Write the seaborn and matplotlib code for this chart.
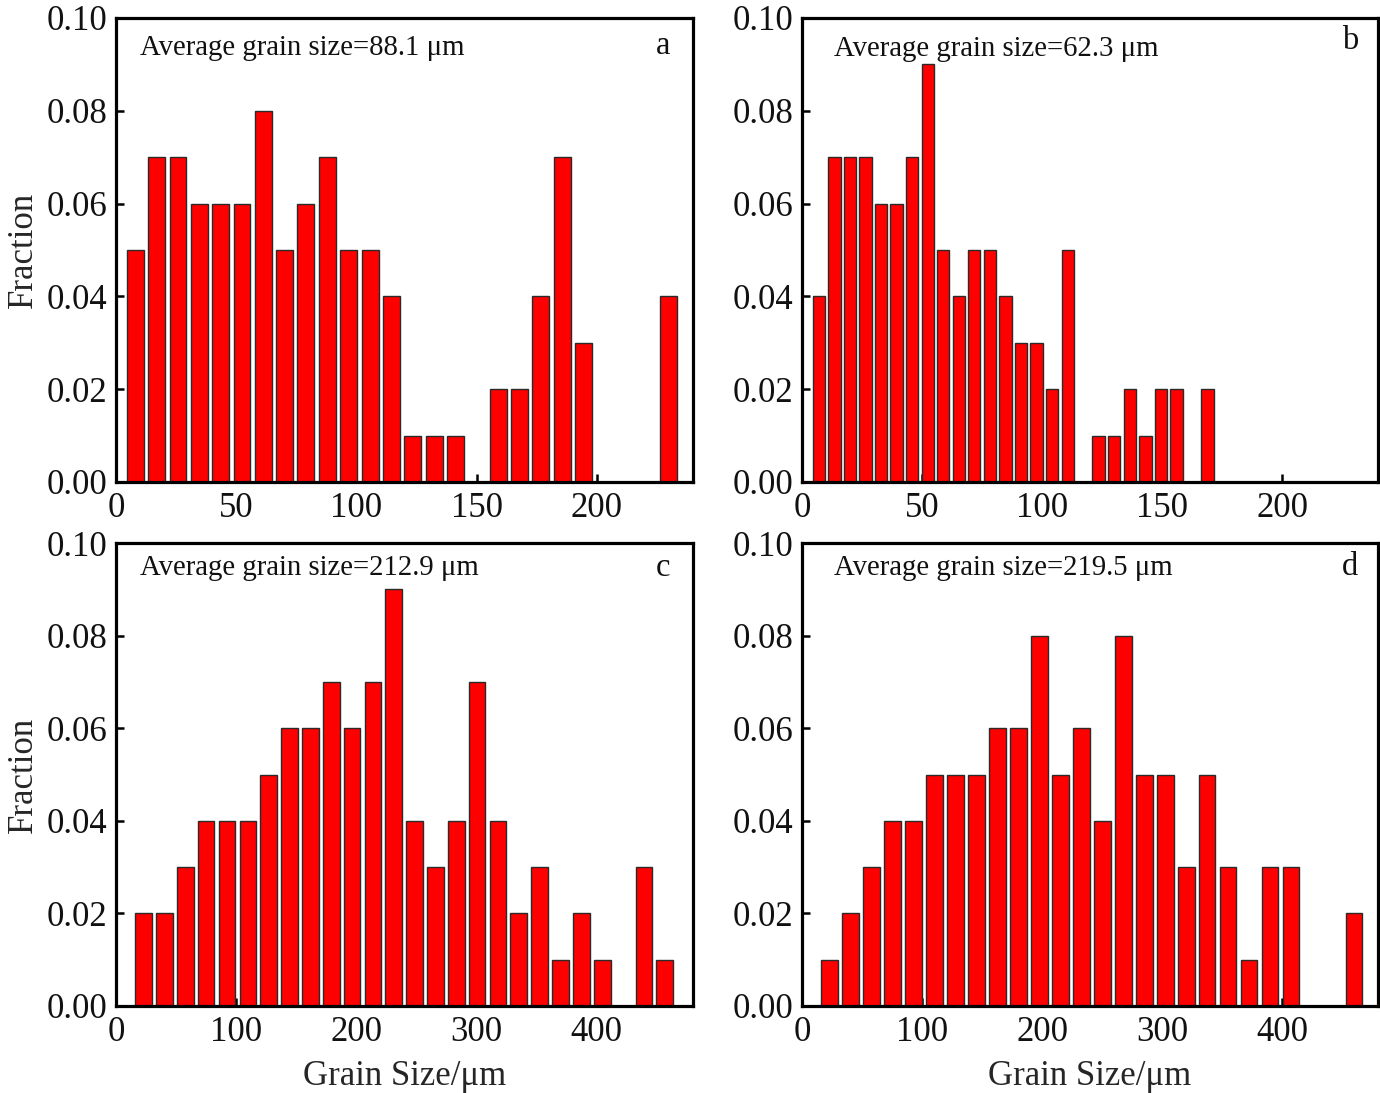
import numpy as np
import pandas as pd
import matplotlib
matplotlib.use("Agg")
import matplotlib.pyplot as plt
from matplotlib.ticker import FormatStrFormatter, MultipleLocator
import seaborn as sns

# ---- data ----
size_a = [8.0, 16.9, 25.8, 34.6, 43.5, 52.4, 61.3, 70.2, 79.0, 87.9, 96.8, 105.7, 114.6,
          123.4, 132.3, 141.2, 150.1, 159.0, 167.8, 176.7, 185.6, 194.5, 203.4, 212.2, 221.1, 230.0]
frac_a = [0.05, 0.07, 0.07, 0.06, 0.06, 0.06, 0.08, 0.05, 0.06, 0.07, 0.05, 0.05, 0.04,
          0.01, 0.01, 0.01, 0.00, 0.02, 0.02, 0.04, 0.07, 0.03, 0.00, 0.00, 0.00, 0.04]

size_b = [7.0, 13.5, 20.0, 26.4, 32.9, 39.4, 45.9, 52.4, 58.8, 65.3, 71.8, 78.3, 84.8,
          91.2, 97.7, 104.2, 110.7, 117.2, 123.6, 130.1, 136.6, 143.1, 149.6, 156.0, 162.5, 169.0]
frac_b = [0.04, 0.07, 0.07, 0.07, 0.06, 0.06, 0.07, 0.09, 0.05, 0.04, 0.05, 0.05, 0.04,
          0.03, 0.03, 0.02, 0.05, 0.00, 0.01, 0.01, 0.02, 0.01, 0.02, 0.02, 0.00, 0.02]

size_c = [23.0, 40.3, 57.7, 75.0, 92.4, 109.7, 127.0, 144.4, 161.7, 179.1, 196.4, 213.7, 231.1,
          248.4, 265.8, 283.1, 300.4, 317.8, 335.1, 352.5, 369.8, 387.1, 404.5, 421.8, 439.2, 456.5]
frac_c = [0.02, 0.02, 0.03, 0.04, 0.04, 0.04, 0.05, 0.06, 0.06, 0.07, 0.06, 0.07, 0.09,
          0.04, 0.03, 0.04, 0.07, 0.04, 0.02, 0.03, 0.01, 0.02, 0.01, 0.00, 0.03, 0.01]

size_d = [23.0, 40.5, 58.0, 75.4, 92.9, 110.4, 127.9, 145.4, 162.8, 180.3, 197.8, 215.3, 232.8,
          250.2, 267.7, 285.2, 302.7, 320.2, 337.6, 355.1, 372.6, 390.1, 407.6, 425.0, 442.5, 460.0]
frac_d = [0.01, 0.02, 0.03, 0.04, 0.04, 0.05, 0.05, 0.05, 0.06, 0.06, 0.08, 0.05, 0.06,
          0.04, 0.08, 0.05, 0.05, 0.03, 0.05, 0.03, 0.01, 0.03, 0.03, 0.00, 0.00, 0.02]

panel_labels = ["a", "b", "c", "d"]
avg_texts = ["Average grain size=88.1 μm", "Average grain size=62.3 μm",
             "Average grain size=212.9 μm", "Average grain size=219.5 μm"]
x_max = [240, 240, 480, 480]
x_step = [50, 50, 100, 100]
x_label = "Grain Size/μm"
y_label = "Fraction"

# ---- style ----
sns.set_theme(style="white")
plt.rcParams['font.family'] = ['Liberation Serif', 'DejaVu Serif']

W, H = 1380, 1093
fig = plt.figure(figsize=(W / 100, H / 100), dpi=100)

boxes = [(116, 693, 18, 482), (802, 1378, 18, 482),
         (116, 693, 543, 1006), (802, 1378, 543, 1006)]
sizes = [size_a, size_b, size_c, size_d]
fracs = [frac_a, frac_b, frac_c, frac_d]
text_pos = [(0.042, 0.935), (0.055, 0.933), (0.042, 0.946), (0.055, 0.946)]
label_pos = [(0.948, 0.94), (0.951, 0.95), (0.948, 0.946), (0.951, 0.948)]

for i in range(4):
    l, r, t, b = boxes[i]
    ax = fig.add_axes([l / W, 1 - b / H, (r - l) / W, (b - t) / H])
    df = pd.DataFrame({"size": sizes[i], "frac": fracs[i]})
    df = df[df["frac"] > 0]
    sns.barplot(data=df, x="size", y="frac", native_scale=True, color="#ff0000",
                saturation=1, edgecolor="#2a2a2a", linewidth=1.0, width=0.8,
                errorbar=None, ax=ax)
    ax.set_xlim(0, x_max[i])
    ax.set_ylim(0, 0.10)
    ax.xaxis.set_major_locator(MultipleLocator(x_step[i]))
    ax.yaxis.set_major_locator(MultipleLocator(0.02))
    ax.yaxis.set_major_formatter(FormatStrFormatter('%.2f'))
    ax.xaxis.set_major_formatter(FormatStrFormatter('%d'))
    ax.tick_params(axis='both', which='major', direction='in', length=6, width=1.8,
                   labelsize=25, pad=6, color='black', labelcolor='#111111',
                   bottom=True, left=True, top=False, right=False)
    ax.tick_params(axis='x', pad=7)
    for sp in ax.spines.values():
        sp.set_linewidth(2.3)
        sp.set_color('black')
    ax.grid(False)
    ax.set_xlabel(x_label if i >= 2 else "", fontsize=25, labelpad=8)
    ax.set_ylabel(y_label if i % 2 == 0 else "", fontsize=25, labelpad=5)
    tx, ty = text_pos[i]
    ax.text(tx, ty, avg_texts[i], transform=ax.transAxes, fontsize=20.7,
            ha='left', va='center', color='#111111')
    lx, ly = label_pos[i]
    ax.text(lx, ly, panel_labels[i], transform=ax.transAxes, fontsize=23.5,
            ha='center', va='center', color='#111111')

fig.savefig("out.png", dpi=100)
